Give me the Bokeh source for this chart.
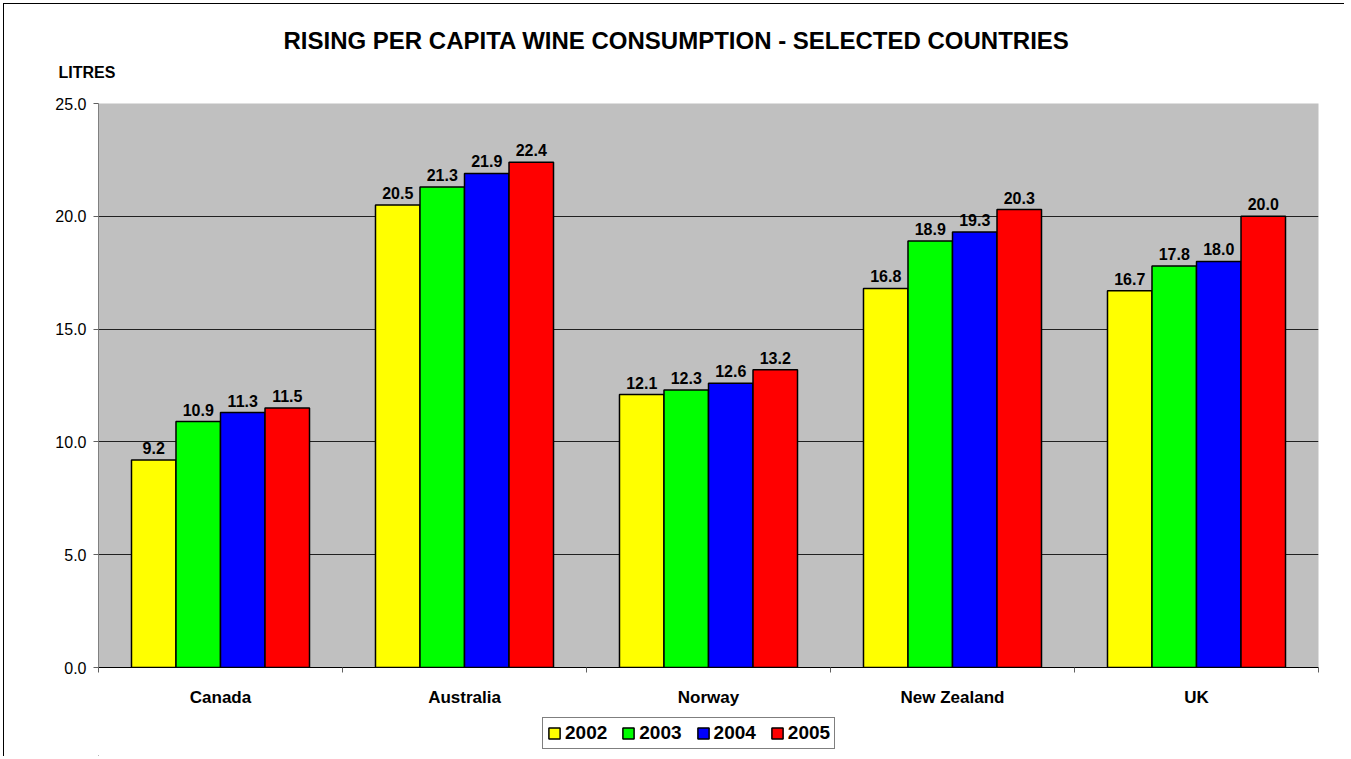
from bokeh.plotting import figure
from bokeh.layouts import column
from bokeh.models import (ColumnDataSource, Range1d, FixedTicker, PrintfTickFormatter,
                          Title, Legend, LegendItem, LabelSet)
from bokeh.core.properties import value
from bokeh.embed import file_html
from bokeh.resources import INLINE

countries = ["Canada", "Australia", "Norway", "New Zealand", "UK"]
years = ["2002", "2003", "2004", "2005"]
v2002 = [9.2, 20.5, 12.1, 16.8, 16.7]
v2003 = [10.9, 21.3, 12.3, 18.9, 17.8]
v2004 = [11.3, 21.9, 12.6, 19.3, 18.0]
v2005 = [11.5, 22.4, 13.2, 20.3, 20.0]
series = [v2002, v2003, v2004, v2005]
colors = ["#FFFF00", "#00FF00", "#0000FF", "#FF0000"]
y_ticks = [0, 5, 10, 15, 20, 25]

FONT = "Liberation Sans"
BAR_W = 0.1824

p = figure(frame_width=1220, frame_height=564, output_backend="svg", toolbar_location=None,
           x_range=Range1d(0, len(countries)), y_range=Range1d(0, 25),
           min_border_left=94, min_border_right=26, min_border_top=99, min_border_bottom=45)
p.background_fill_color = "#C0C0C0"
p.border_fill_color = "white"
p.outline_line_color = None

# axes
centers = [i + 0.5 for i in range(len(countries))]
p.xaxis.ticker = FixedTicker(ticks=centers, minor_ticks=list(range(len(countries) + 1)))
p.xaxis.major_label_overrides = {c: name for c, name in zip(centers, countries)}
p.xaxis.major_tick_line_color = None
p.xaxis.major_tick_out = 0
p.xaxis.major_tick_in = 0
p.xaxis.minor_tick_out = 5
p.xaxis.minor_tick_in = 0
p.xaxis.minor_tick_line_color = "#606060"
p.xaxis.axis_line_color = "#000000"
p.xaxis.major_label_text_font = FONT
p.xaxis.major_label_text_font_style = "bold"
p.xaxis.major_label_text_font_size = "17px"
p.xaxis.major_label_text_color = "#000000"
p.xaxis.major_label_standoff = 15

p.yaxis.ticker = FixedTicker(ticks=y_ticks)
p.yaxis.formatter = PrintfTickFormatter(format="%.1f")
p.yaxis.minor_tick_line_color = None
p.yaxis.major_tick_out = 5
p.yaxis.major_tick_in = 0
p.yaxis.major_tick_line_color = "#606060"
p.yaxis.axis_line_color = "#808080"
p.yaxis.major_label_text_font = FONT
p.yaxis.major_label_text_font_size = "16px"
p.yaxis.major_label_text_color = "#000000"
p.yaxis.major_label_standoff = 7

p.xgrid.grid_line_color = None
p.ygrid.ticker = FixedTicker(ticks=y_ticks)
p.ygrid.grid_line_color = "#202020"
p.ygrid.grid_line_width = 1

for j, (yr, vals, col) in enumerate(zip(years, series, colors)):
    xs = [i + 0.5 + (j - 1.5) * BAR_W for i in range(len(countries))]
    src = ColumnDataSource(dict(x=xs, top=vals, lab=["%.1f" % v for v in vals]))
    p.vbar(x="x", top="top", width=BAR_W, bottom=0, source=src,
           fill_color=col, line_color="#000000", line_width=1.5)
    labels = LabelSet(x="x", y="top", text="lab", source=src, text_align="center",
                      text_baseline="alphabetic", y_offset=6, text_font=value(FONT),
                      text_font_style="bold", text_font_size="16px", text_color="#000000")
    p.add_layout(labels)

ylab = Title(text="LITRES", align="left", offset=-40, standoff=45,
             text_font=FONT, text_font_style="bold", text_font_size="16px", text_color="#000000")
p.add_layout(ylab, "above")
title = Title(text="RISING PER CAPITA WINE CONSUMPTION - SELECTED COUNTRIES", align="left",
              offset=185, standoff=-28, text_font=FONT, text_font_style="bold",
              text_font_size="24px", text_color="#000000")
p.add_layout(title, "above")

# legend strip below the chart (swatch renderers sit outside its visible range)
q = figure(width=1340, height=44, output_backend="svg", toolbar_location=None,
           x_axis_type=None, y_axis_type=None,
           x_range=Range1d(10, 11), y_range=Range1d(10, 11),
           min_border_left=0, min_border_right=0, min_border_top=0, min_border_bottom=0)
q.outline_line_color = None
q.xgrid.grid_line_color = None
q.ygrid.grid_line_color = None
items = []
for yr, col in zip(years, colors):
    r = q.vbar(x=[0], top=[0], width=1, fill_color=col, line_color="#000000", line_width=1.5)
    items.append(LegendItem(label=yr, renderers=[r]))
legend = Legend(items=items, orientation="horizontal", location=(444, 7),
                label_text_font=FONT, label_text_font_style="bold",
                label_text_font_size="19px", label_text_color="#000000",
                glyph_width=14, glyph_height=14, label_standoff=4, spacing=14,
                padding=4, margin=0, border_line_color="#000000", border_line_width=1,
                background_fill_color="white", background_fill_alpha=1.0,
                label_height=18)
q.add_layout(legend, "center")

layout = column(p, q, spacing=0)
layout.margin = (3, 0, 0, 3)
layout.styles = {"border-left": "1px solid #000000", "border-top": "1px solid #000000"}

open("out.html", "w").write(file_html(layout, INLINE))
